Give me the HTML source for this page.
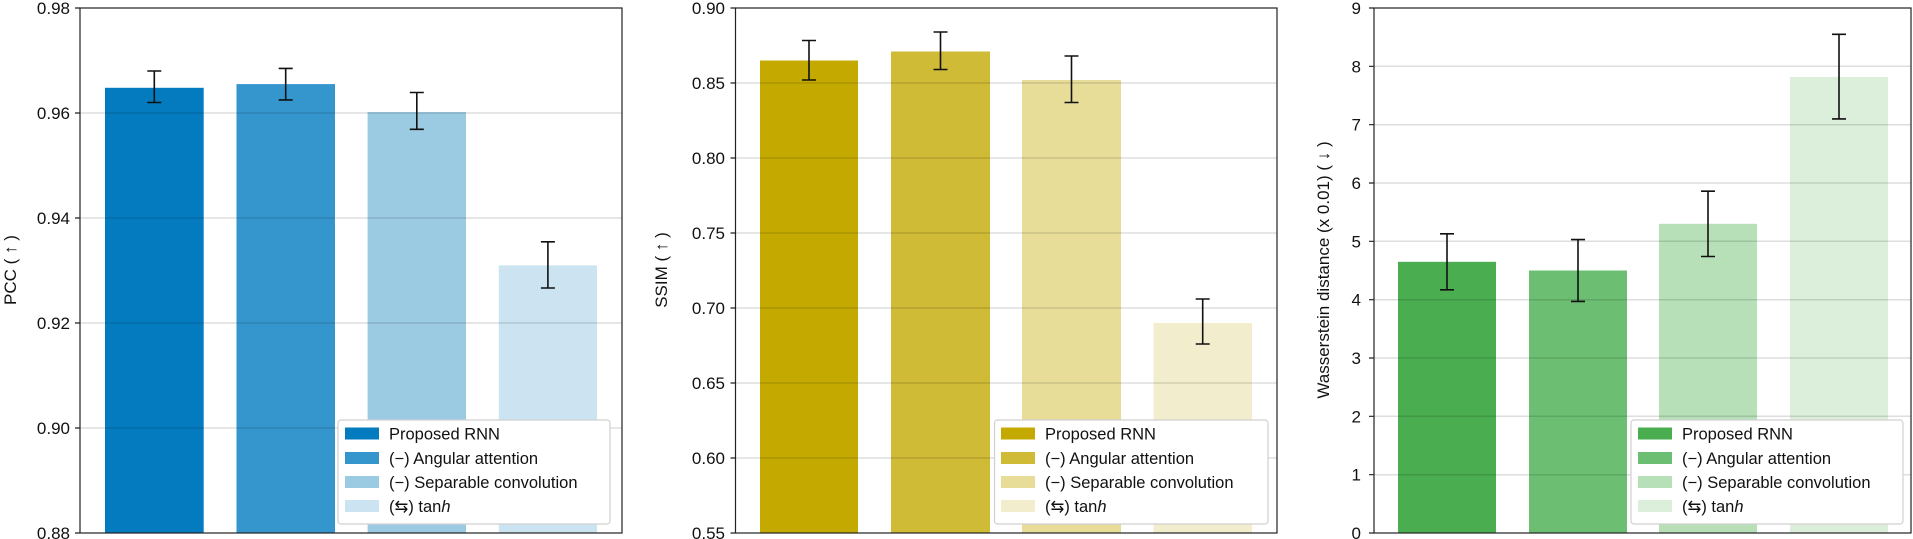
<!DOCTYPE html>
<html><head><meta charset="utf-8"><style>
html,body{margin:0;padding:0;background:#fff;}
svg{display:block;font-family:"Liberation Sans",Arial,sans-serif;}
.t{font-size:17px;fill:#111;}
.l{font-size:16.5px;fill:#111;}
.g{stroke:#000;stroke-opacity:0.13;stroke-width:1.5;}
.e{stroke:#111;stroke-width:1.6;fill:none;}
.ax{stroke:#222;stroke-width:1.2;fill:none;}
</style></head><body>
<svg width="1913" height="539" viewBox="0 0 1913 539">
<!-- Panel 1 -->
<g>
<rect x="105" y="87.8" width="98.7" height="445.2" fill="#047bbf"/>
<rect x="236.5" y="84.1" width="98.5" height="448.9" fill="#3596cd"/>
<rect x="367.6" y="112.1" width="98.4" height="420.9" fill="#9bcae3"/>
<rect x="498.8" y="265.4" width="98.2" height="267.6" fill="#cce4f1"/>
<line class="g" x1="80" x2="622" y1="113" y2="113"/>
<line class="g" x1="80" x2="622" y1="218" y2="218"/>
<line class="g" x1="80" x2="622" y1="323" y2="323"/>
<line class="g" x1="80" x2="622" y1="428" y2="428"/>
<path class="e" d="M154.3 71V102.5M147.3 71H161.3M147.3 102.5H161.3"/>
<path class="e" d="M285.7 68.4V99.9M278.7 68.4H292.7M278.7 99.9H292.7"/>
<path class="e" d="M416.8 92.5V129.3M409.8 92.5H423.8M409.8 129.3H423.8"/>
<path class="e" d="M547.9 241.8V288M540.9 241.8H554.9M540.9 288H554.9"/>
<rect class="ax" x="80" y="8" width="542" height="525"/>
<g class="ax"><path d="M75 8H80M75 113H80M75 218H80M75 323H80M75 428H80M75 533H80"/></g>
<g class="t" text-anchor="end">
<text x="70" y="14">0.98</text><text x="70" y="119">0.96</text><text x="70" y="224">0.94</text>
<text x="70" y="329">0.92</text><text x="70" y="434">0.90</text><text x="70" y="539">0.88</text></g>
<text class="t" transform="translate(16,270) rotate(-90)" text-anchor="middle">PCC ( ↑ )</text>
<rect x="338" y="420" width="272" height="104" rx="3" fill="#fff" stroke="#d0d0d0" stroke-width="1.2"/>
<rect x="345" y="427.5" width="34" height="12" fill="#047bbf"/>
<rect x="345" y="452" width="34" height="12" fill="#3596cd"/>
<rect x="345" y="476" width="34" height="12" fill="#9bcae3"/>
<rect x="345" y="500" width="34" height="12" fill="#cce4f1"/>
<g class="l"><text x="389" y="439.5">Proposed RNN</text><text x="389" y="464">(−) Angular attention</text>
<text x="389" y="488">(−) Separable convolution</text><text x="389" y="512">(⇆) tan<tspan font-style="italic">h</tspan></text></g>
</g>
<!-- Panel 2 -->
<g>
<rect x="760" y="60.5" width="98" height="472.5" fill="#c4aa00"/>
<rect x="891" y="51.5" width="99" height="481.5" fill="#cfbb36"/>
<rect x="1022" y="80" width="99" height="453" fill="#e7dd99"/>
<rect x="1153.5" y="323" width="98.5" height="210" fill="#f2edcc"/>
<line class="g" x1="735.5" x2="1277" y1="83" y2="83"/>
<line class="g" x1="735.5" x2="1277" y1="158" y2="158"/>
<line class="g" x1="735.5" x2="1277" y1="233" y2="233"/>
<line class="g" x1="735.5" x2="1277" y1="308" y2="308"/>
<line class="g" x1="735.5" x2="1277" y1="383" y2="383"/>
<line class="g" x1="735.5" x2="1277" y1="458" y2="458"/>
<path class="e" d="M809 40.5V80M802 40.5H816M802 80H816"/>
<path class="e" d="M940.5 32V69.5M933.5 32H947.5M933.5 69.5H947.5"/>
<path class="e" d="M1071.5 56V102.5M1064.5 56H1078.5M1064.5 102.5H1078.5"/>
<path class="e" d="M1202.7 299V344M1195.7 299H1209.7M1195.7 344H1209.7"/>
<rect class="ax" x="735.5" y="8" width="541.5" height="525"/>
<g class="ax"><path d="M730.5 8H735.5M730.5 83H735.5M730.5 158H735.5M730.5 233H735.5M730.5 308H735.5M730.5 383H735.5M730.5 458H735.5M730.5 533H735.5"/></g>
<g class="t" text-anchor="end">
<text x="725" y="14">0.90</text><text x="725" y="89">0.85</text><text x="725" y="164">0.80</text><text x="725" y="239">0.75</text>
<text x="725" y="314">0.70</text><text x="725" y="389">0.65</text><text x="725" y="464">0.60</text><text x="725" y="539">0.55</text></g>
<text class="t" transform="translate(667,270) rotate(-90)" text-anchor="middle">SSIM ( ↑ )</text>
<rect x="994.5" y="420" width="273.5" height="104" rx="3" fill="#fff" stroke="#d0d0d0" stroke-width="1.2"/>
<rect x="1001" y="427.5" width="34" height="12" fill="#c4aa00"/>
<rect x="1001" y="452" width="34" height="12" fill="#cfbb36"/>
<rect x="1001" y="476" width="34" height="12" fill="#e7dd99"/>
<rect x="1001" y="500" width="34" height="12" fill="#f2edcc"/>
<g class="l"><text x="1045" y="439.5">Proposed RNN</text><text x="1045" y="464">(−) Angular attention</text>
<text x="1045" y="488">(−) Separable convolution</text><text x="1045" y="512">(⇆) tan<tspan font-style="italic">h</tspan></text></g>
</g>
<!-- Panel 3 -->
<g>
<rect x="1398" y="261.8" width="98" height="271.2" fill="#4aae50"/>
<rect x="1529" y="270.5" width="98" height="262.5" fill="#6cbf72"/>
<rect x="1659" y="223.8" width="98" height="309.2" fill="#b7dfb8"/>
<rect x="1790" y="76.9" width="98" height="456.1" fill="#dbefdb"/>
<line class="g" x1="1374" x2="1911" y1="474.7" y2="474.7"/>
<line class="g" x1="1374" x2="1911" y1="416.3" y2="416.3"/>
<line class="g" x1="1374" x2="1911" y1="358" y2="358"/>
<line class="g" x1="1374" x2="1911" y1="299.7" y2="299.7"/>
<line class="g" x1="1374" x2="1911" y1="241.3" y2="241.3"/>
<line class="g" x1="1374" x2="1911" y1="183" y2="183"/>
<line class="g" x1="1374" x2="1911" y1="124.7" y2="124.7"/>
<line class="g" x1="1374" x2="1911" y1="66.3" y2="66.3"/>
<path class="e" d="M1447 233.8V289.8M1440 233.8H1454M1440 289.8H1454"/>
<path class="e" d="M1578 239.6V301.4M1571 239.6H1585M1571 301.4H1585"/>
<path class="e" d="M1708 191.2V256.5M1701 191.2H1715M1701 256.5H1715"/>
<path class="e" d="M1839 34.3V118.9M1832 34.3H1846M1832 118.9H1846"/>
<rect class="ax" x="1374" y="8" width="537" height="525"/>
<g class="ax"><path d="M1369 8H1374M1369 66.3H1374M1369 124.7H1374M1369 183H1374M1369 241.3H1374M1369 299.7H1374M1369 358H1374M1369 416.3H1374M1369 474.7H1374M1369 533H1374"/></g>
<g class="t" text-anchor="end">
<text x="1361" y="14">9</text><text x="1361" y="72.3">8</text><text x="1361" y="130.7">7</text><text x="1361" y="189">6</text>
<text x="1361" y="247.3">5</text><text x="1361" y="305.7">4</text><text x="1361" y="364">3</text><text x="1361" y="422.3">2</text>
<text x="1361" y="480.7">1</text><text x="1361" y="539">0</text></g>
<text class="t" transform="translate(1329,270) rotate(-90)" text-anchor="middle">Wasserstein distance (x 0.01) ( ↓ )</text>
<rect x="1631" y="420" width="272" height="104" rx="3" fill="#fff" stroke="#d0d0d0" stroke-width="1.2"/>
<rect x="1638" y="427.5" width="34" height="12" fill="#4aae50"/>
<rect x="1638" y="452" width="34" height="12" fill="#6cbf72"/>
<rect x="1638" y="476" width="34" height="12" fill="#b7dfb8"/>
<rect x="1638" y="500" width="34" height="12" fill="#dbefdb"/>
<g class="l"><text x="1682" y="439.5">Proposed RNN</text><text x="1682" y="464">(−) Angular attention</text>
<text x="1682" y="488">(−) Separable convolution</text><text x="1682" y="512">(⇆) tan<tspan font-style="italic">h</tspan></text></g>
</g>
</svg>
</body></html>
